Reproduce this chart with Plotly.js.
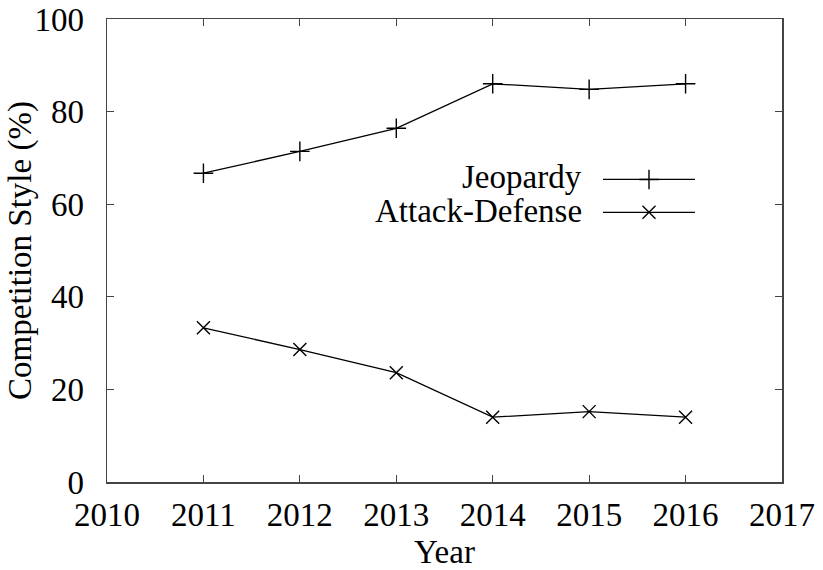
<!DOCTYPE html>
<html>
<head>
<meta charset="utf-8">
<script src="https://cdn.plot.ly/plotly-3.0.1.min.js"></script>
<style>
html,body{margin:0;padding:0;background:#fff}
#chart{width:823px;height:570px}
#chart text{font-family:"Liberation Serif","Times New Roman",serif !important;}
</style>
</head>
<body>
<div id="chart"></div>
<script>
var years = [2011, 2012, 2013, 2014, 2015, 2016];
var jeopardy = [66.7, 71.4, 76.4, 86.0, 84.8, 86.0];
var attackDefense = [33.3, 28.6, 23.6, 14.0, 15.2, 14.0];
var seriesNames = ["Jeopardy", "Attack-Defense"];
var xTicks = [2010, 2011, 2012, 2013, 2014, 2015, 2016, 2017];
var yTicks = [0, 20, 40, 60, 80, 100];

var FONT = "Liberation Serif";
function f(size) { return {family: FONT, size: size, color: "#000"}; }

var traces = [
  {
    x: years, y: jeopardy, type: "scatter", mode: "lines+markers", name: "",
    line: {color: "#000", width: 1.3},
    marker: {symbol: "cross-thin-open", size: 14, color: "#000", line: {width: 1.4, color: "#000"}}
  },
  {
    x: years, y: attackDefense, type: "scatter", mode: "lines+markers", name: "",
    line: {color: "#000", width: 1.3},
    marker: {symbol: "x-thin-open", size: 13, color: "#000", line: {width: 1.4, color: "#000"}}
  }
];

var layout = {
  width: 823, height: 570,
  margin: {l: 107, r: 41, t: 19, b: 88},
  paper_bgcolor: "#fff", plot_bgcolor: "#fff",
  font: f(33),
  showlegend: true,
  legend: {
    xref: "paper", yref: "paper",
    x: (598 - 107) / 675, y: (482 - 158) / 463, xanchor: "left", yanchor: "top",
    bgcolor: "rgba(0,0,0,0)", borderwidth: 0,
    itemwidth: 92, font: f(23), tracegroupgap: 0
  },
  xaxis: {
    showgrid: false, zeroline: false, showline: true, linecolor: "#444", linewidth: 1.5,
    mirror: "ticks", ticks: "inside", ticklen: 7, tickwidth: 1.2, tickcolor: "#444",
    tickfont: f(33),
    range: [2010, 2017], tickmode: "array", tickvals: xTicks, ticktext: xTicks.map(String),
    ticklabelstandoff: 3,
    title: {text: "Year", font: f(33)}
  },
  yaxis: {
    showgrid: false, zeroline: false, showline: true, linecolor: "#444", linewidth: 1.5,
    mirror: "ticks", ticks: "inside", ticklen: 7, tickwidth: 1.2, tickcolor: "#444",
    tickfont: f(33),
    range: [0, 100], tickmode: "array", tickvals: yTicks, ticktext: yTicks.map(String),
    ticklabelstandoff: 15,
    title: {text: "Competition Style (%)", font: f(33)}
  },
  annotations: [
    {text: seriesNames[0], xref: "paper", yref: "paper", x: (584 - 107) / 675, y: (482 - 177) / 463,
     xanchor: "right", yanchor: "middle", showarrow: false, font: f(33)},
    {text: seriesNames[1], xref: "paper", yref: "paper", x: (584 - 107) / 675, y: (482 - 211) / 463,
     xanchor: "right", yanchor: "middle", showarrow: false, font: f(33)}
  ]
};

Plotly.newPlot("chart", traces, layout, {displayModeBar: false, staticPlot: true});
</script>
</body>
</html>
